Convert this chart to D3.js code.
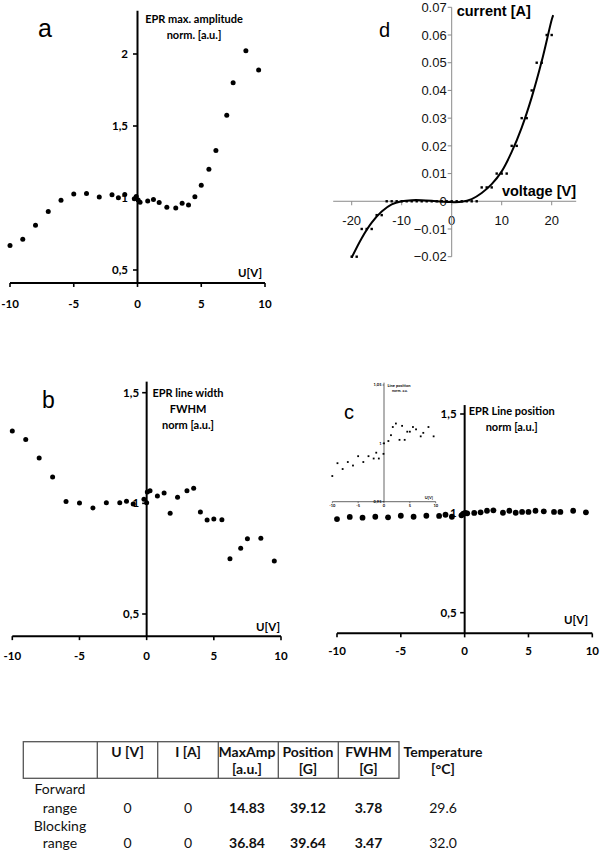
<!DOCTYPE html>
<html><head><meta charset="utf-8">
<script src="https://cdn.jsdelivr.net/npm/d3@7"></script>
<style>body{margin:0;background:#fff}svg{display:block}</style>
</head><body>
<svg id="chart" width="600" height="853"></svg>
<script>
// ---------- data ----------
// panel a : EPR max amplitude (normalised) vs U
const ampU   = [-10,-9,-8,-7,-6,-5,-4,-3,-2,-1.5,-1,-0.25,-0.1,0.05,0.2,0.8,1.25,1.7,2.3,3,3.5,4,4.5,5,5.6,6.15,7,7.5,8.5,9.5];
const ampVal = [0.67,0.713,0.81,0.907,0.984,1.028,1.032,1.007,1.023,1.002,1.025,0.995,1.01,0.986,0.97,0.98,0.99,0.968,0.935,0.93,0.963,0.951,1.009,1.088,1.2,1.329,1.574,1.80,2.023,1.889];
// panel b : EPR line width FWHM (normalised)
const fwhmU   = [-10,-9,-8,-7,-6,-5,-4,-3,-2,-1.5,-1,-0.2,0,0.05,0.25,0.8,1.3,1.75,2.3,3,3.5,4,4.5,5,5.6,6.2,7,7.5,8.5,9.5];
const fwhmVal = [1.327,1.289,1.205,1.119,1.008,1.002,0.979,1.003,1.003,1.009,0.997,1.018,1.003,1.051,1.057,1.033,1.047,0.955,1.027,1.057,1.068,0.961,0.925,0.929,0.926,0.75,0.797,0.84,0.842,0.739];
// panel c : EPR line position (normalised)
const posU   = [-10,-9,-8,-7,-6,-5,-4,-3,-2,-1.5,-1,-0.25,-0.1,0.05,0.2,0.75,1.25,1.75,2.25,3,3.5,4,4.5,5,5.55,6.2,7,7.5,8.5,9.5];
const posVal = [0.971,0.982,0.978,0.983,0.980,0.988,0.983,0.988,0.987,0.993,0.983,0.99,0.998,1.002,1.0,1.002,1.005,1.013,1.015,1.003,1.013,1.003,1.007,1.007,1.013,1.01,1.007,1.007,1.013,1.005];
// inset of panel c (zoomed line position)
const insetU   = [-10,-9,-8,-7,-6,-5,-4,-3,-2,-1.5,-1,-0.1,0,0.85,1.35,1.7,2.3,3,3.5,4,4.5,5,5.6,6.2,7.1,7.6,8.6,9.6];
const insetVal = [0.972,0.983,0.978,0.984,0.981,0.989,0.984,0.989,0.987,0.992,0.987,0.991,1.0,1.002,1.007,1.014,1.017,1.003,1.015,1.003,1.010,1.010,1.014,1.012,1.006,1.009,1.014,1.006];
// panel d : I-V characteristic
const ivU = [-20,-19,-18,-17,-16,-15,-14,-13,-12,-11,-10,-9,-8,-7,-6,-5,-4,-3,-2,-1,0,1,2,3,4,5,6,7,8,9,10,11,12,13,14,15,16,17,18,19,20];
const ivI = [-0.02,-0.02,-0.01,-0.01,-0.01,-0.005,-0.005,0,0,0,0,0,0,0,0,0,0,0,0,0,0,0,0,0,0,0,0.005,0.005,0.005,0.01,0.01,0.01,0.02,0.02,0.03,0.03,0.04,0.05,0.05,0.06,0.06];
// fitted trend line of panel d
const fitU = [-20,-18,-16,-14,-12,-10,-8,-6,-4,-2,0,2,4,6,8,10,12,14,16,18,20,20.3];
const fitI = [-0.0203,-0.0133,-0.0077,-0.0037,-0.0011,0.0000,0.0004,0.0004,0.0002,-0.0001,-0.0003,-0.0002,0.0008,0.0030,0.0062,0.0108,0.0178,0.0266,0.0375,0.0505,0.0655,0.0672];
// tick values
const eprXTicks = [-10,-5,0,5,10];
const ampYTicks = [0.5,1,1.5,2];
const fwYTicks  = [0.5,1,1.5];
const insetYTicks = [0.95,1,1.05];
const ivXTicks = [-20,-10,0,10,20];
const ivYTicks = [-0.02,-0.01,0,0.01,0.02,0.03,0.04,0.05,0.06,0.07];
// table
const tableHead1 = ["", "U [V]", "I [A]", "MaxAmp", "Position", "FWHM", "Temperature"];
const tableHead2 = ["", "", "", "[a.u.]", "[G]", "[G]", "[\u00B0C]"];
const rowNames = [["Forward","range"],["Blocking","range"]];
const rowU = ["0","0"];
const rowI = ["0","0"];
const rowAmp = ["14.83","36.84"];
const rowPos = ["39.12","39.64"];
const rowFw = ["3.78","3.47"];
const rowT = ["29.6","32.0"];

// ---------- drawing ----------
const svg = d3.select("#chart");
svg.append("rect").attr("width",600).attr("height",853).attr("fill","#fff");
const F = "Lato, 'Open Sans', sans-serif";
const comma = d => String(d).replace(".", ",");

function eprPanel(o){
  const g = svg.append("g");
  const x = o.x, y = o.y;
  const y0 = y(o.yExt[0]);
  const x0 = x(0);
  // x axis
  g.append("line").attr("x1",x(-10)).attr("x2",x(10)).attr("y1",y0).attr("y2",y0)
    .attr("stroke","#000").attr("stroke-width",2);
  g.selectAll(".xt").data(eprXTicks).enter().append("line")
    .attr("x1",d=>x(d)).attr("x2",d=>x(d)).attr("y1",y0).attr("y2",y0+4)
    .attr("stroke","#000").attr("stroke-width",1.6);
  g.selectAll(".xl").data(eprXTicks).enter().append("text")
    .attr("x",d=>x(d)).attr("y",o.xLabelY).attr("text-anchor","middle")
    .attr("font-family",F).attr("font-weight","bold").attr("font-size",11.5).text(d=>d);
  // y axis
  g.append("line").attr("x1",x0).attr("x2",x0).attr("y1",y0).attr("y2",y(o.yExt[1]))
    .attr("stroke","#000").attr("stroke-width",2);
  g.selectAll(".yt").data(o.yTicks).enter().append("line")
    .attr("x1",x0-4.5).attr("x2",x0).attr("y1",d=>y(d)).attr("y2",d=>y(d))
    .attr("stroke","#000").attr("stroke-width",1.6);
  g.selectAll(".yl").data(o.yTicks).enter().append("text")
    .attr("x",x0-o.labOff).attr("y",d=>y(d)).attr("dy","0.35em").attr("text-anchor","end")
    .attr("font-family",F).attr("font-weight","bold").attr("font-size",11.5).text(comma);
  // title
  o.title.forEach((t,i)=>{
    g.append("text").attr("x",o.titleX).attr("y",o.titleY+i*16).attr("text-anchor","middle")
      .attr("font-family",F).attr("font-weight","bold").attr("font-size",11).text(t);
  });
  // U[V]
  g.append("text").attr("x",o.uvX).attr("y",o.uvY).attr("text-anchor","end")
    .attr("font-family",F).attr("font-weight","bold").attr("font-size",11.5).text("U[V]");
  // letter
  g.append("text").attr("x",o.letterX).attr("y",o.letterY)
    .attr("font-family","'Liberation Sans', Arial, sans-serif").attr("font-size",o.letterSize).text(o.letter);
  // dots
  g.selectAll(".pt").data(o.u.map((u,i)=>[u,o.v[i]])).enter().append("circle")
    .attr("cx",d=>x(d[0])).attr("cy",d=>y(d[1])).attr("r",o.r).attr("fill","#000");
  return g;
}

// panel a
eprPanel({
  x: d3.scaleLinear().domain([-10,10]).range([10,265]),
  y: d3.scaleLinear().domain([0.5,2]).range([270,54]),
  yExt:[0.41,2.3], yTicks: ampYTicks, labOff: 9.5,
  xLabelY: 308,
  title:["EPR max. amplitude","norm. [a.u.]"], titleX:194, titleY:22.5,
  uvX:262, uvY:277, letter:"a", letterX:38, letterY:37, letterSize:25,
  u: ampU, v: ampVal, r:2.5
});
// panel b
eprPanel({
  x: d3.scaleLinear().domain([-10,10]).range([12.3,281]),
  y: d3.scaleLinear().domain([0.5,1.5]).range([614,392.7]),
  yExt:[0.4,1.55], yTicks: fwYTicks, labOff: 7.5,
  xLabelY: 660,
  title:["EPR line width","FWHM","norm [a.u.]"], titleX:188, titleY:397.3,
  uvX:280, uvY:631, letter:"b", letterX:42, letterY:408, letterSize:23,
  u: fwhmU, v: fwhmVal, r:2.5
});
// panel c
eprPanel({
  x: d3.scaleLinear().domain([-10,10]).range([337,592.3]),
  y: d3.scaleLinear().domain([0.5,1.5]).range([612.7,414]),
  yExt:[0.396,1.545], yTicks: fwYTicks, labOff: 8,
  xLabelY: 655,
  title:["EPR Line position","norm [a.u.]"], titleX:511.7, titleY:414.5,
  uvX:588, uvY:624, letter:"c", letterX:344, letterY:419, letterSize:20,
  u: posU, v: posVal, r:2.9
});

// inset in panel c
(function(){
  const g = svg.append("g");
  const x = d3.scaleLinear().domain([-10,10]).range([332.3,435.7]);
  const y = d3.scaleLinear().domain([0.95,1.05]).range([501.7,385]);
  const y0 = y(0.95), x0 = x(0);
  const fs = 4;
  g.append("line").attr("x1",x(-10)).attr("x2",x(10)).attr("y1",y0).attr("y2",y0)
    .attr("stroke","#222").attr("stroke-width",0.7);
  g.selectAll(".xt").data(eprXTicks).enter().append("line")
    .attr("x1",d=>x(d)).attr("x2",d=>x(d)).attr("y1",y0).attr("y2",y0+1.5)
    .attr("stroke","#222").attr("stroke-width",0.6);
  g.selectAll(".xl").data(eprXTicks).enter().append("text")
    .attr("x",d=>x(d)).attr("y",y0+5.5).attr("text-anchor","middle")
    .attr("font-family",F).attr("font-weight","bold").attr("font-size",fs).text(d=>d);
  g.append("line").attr("x1",x0).attr("x2",x0).attr("y1",y0).attr("y2",y(1.052))
    .attr("stroke","#222").attr("stroke-width",0.7);
  g.selectAll(".yt").data(insetYTicks).enter().append("line")
    .attr("x1",x0-1.5).attr("x2",x0).attr("y1",d=>y(d)).attr("y2",d=>y(d))
    .attr("stroke","#222").attr("stroke-width",0.6);
  g.selectAll(".yl").data(insetYTicks).enter().append("text")
    .attr("x",x0-2.5).attr("y",d=>y(d)).attr("dy","0.35em").attr("text-anchor","end")
    .attr("font-family",F).attr("font-weight","bold").attr("font-size",fs).text(comma);
  g.append("text").attr("x",x0+3.5).attr("y",y(1.05)+1.5)
    .attr("font-family",F).attr("font-weight","bold").attr("font-size",fs).text("Line position");
  g.append("text").attr("x",x0+8).attr("y",y(1.05)+6.5)
    .attr("font-family",F).attr("font-weight","bold").attr("font-size",3.6).text("norm. a.u.");
  g.append("text").attr("x",x(9.5)).attr("y",y0-2.5).attr("text-anchor","end")
    .attr("font-family",F).attr("font-weight","bold").attr("font-size",fs).text("U[V]");
  g.selectAll(".pt").data(insetU.map((u,i)=>[u,insetVal[i]])).enter().append("rect")
    .attr("x",d=>x(d[0])-0.9).attr("y",d=>y(d[1])-0.9).attr("width",1.8).attr("height",1.8).attr("fill","#000");
})();

// panel d
(function(){
  const g = svg.append("g");
  const FA = "'Liberation Sans', Arial, sans-serif";
  const x = d3.scaleLinear().domain([-20,20]).range([351.7,551.7]);
  const y = d3.scaleLinear().domain([-0.02,0.07]).range([256.7,7.3]);
  const y0 = y(0), x0 = x(0);
  const ax = "#8a8a8a";
  g.append("line").attr("x1",x(-23.7)).attr("x2",x(24.9)).attr("y1",y0).attr("y2",y0)
    .attr("stroke",ax).attr("stroke-width",1);
  g.selectAll(".xt").data(ivXTicks).enter().append("line")
    .attr("x1",d=>x(d)).attr("x2",d=>x(d)).attr("y1",y0).attr("y2",y0+4)
    .attr("stroke",ax).attr("stroke-width",1);
  g.selectAll(".xl").data(ivXTicks).enter().append("text")
    .attr("x",d=>x(d)).attr("y",y0+24).attr("text-anchor","middle")
    .attr("font-family",FA).attr("font-size",13).attr("fill","#111").text(d=>d);
  g.append("line").attr("x1",x0).attr("x2",x0).attr("y1",y(-0.02)).attr("y2",y(0.07))
    .attr("stroke",ax).attr("stroke-width",1);
  g.selectAll(".yt").data(ivYTicks).enter().append("line")
    .attr("x1",x0-4).attr("x2",x0).attr("y1",d=>y(d)).attr("y2",d=>y(d))
    .attr("stroke",ax).attr("stroke-width",1);
  g.selectAll(".yl").data(ivYTicks).enter().append("text")
    .attr("x",x0-5).attr("y",d=>y(d)).attr("dy","0.36em").attr("text-anchor","end")
    .attr("font-family",FA).attr("font-size",13).attr("fill","#111")
    .text(d=>d===0?"0":d3.format(".2f")(d));
  g.append("text").attr("x",x0+5).attr("y",16).attr("font-family",FA).attr("font-weight","bold")
    .attr("font-size",14.5).text("current [A]");
  g.append("text").attr("x",576).attr("y",196).attr("text-anchor","end").attr("font-family",FA).attr("font-weight","bold")
    .attr("font-size",14.5).text("voltage [V]");
  g.append("text").attr("x",379).attr("y",36.5).attr("font-family",FA).attr("font-size",20).text("d");
  const line = d3.line().x(d=>x(d[0])).y(d=>y(d[1])).curve(d3.curveCatmullRom);
  g.append("path").datum(fitU.map((u,i)=>[u,fitI[i]])).attr("d",line)
    .attr("fill","none").attr("stroke","#000").attr("stroke-width",2);
  g.selectAll(".pt").data(ivU.map((u,i)=>[u,ivI[i]])).enter().append("rect")
    .attr("x",d=>x(d[0])-1.2).attr("y",d=>y(d[1])-1.2).attr("width",2.4).attr("height",2.4).attr("fill","#000");
})();

// table
(function(){
  const g = svg.append("g");
  const colEdges = [23.3,97.3,157.7,218.3,278.3,338.3,399];
  const colCenters = [60,127.5,188,247,308,368.5,443];
  const top = 741.7, bot = 778.3;
  const st = "#555";
  g.append("rect").attr("x",colEdges[0]).attr("y",top).attr("width",colEdges[6]-colEdges[0]).attr("height",bot-top)
    .attr("fill","none").attr("stroke",st).attr("stroke-width",1.3);
  g.selectAll(".cl").data(colEdges.slice(1,6)).enter().append("line")
    .attr("x1",d=>d).attr("x2",d=>d).attr("y1",top).attr("y2",bot).attr("stroke",st).attr("stroke-width",1.3);
  const tf = {"font-family":F,"font-size":14};
  function txt(x,y,s,bold){
    g.append("text").attr("x",x).attr("y",y).attr("text-anchor","middle")
      .attr("font-family",F).attr("font-size",14).attr("font-weight",bold?"bold":"normal").attr("fill","#111").text(s);
  }
  tableHead1.forEach((s,i)=>{ if(s) txt(colCenters[i],756.7,s,true); });
  tableHead2.forEach((s,i)=>{ if(s) txt(colCenters[i],774,s,true); });
  const rowBase = [[794,812.7],[830.7,848.3]];
  rowNames.forEach((nm,r)=>{
    txt(colCenters[0],rowBase[r][0],nm[0],false);
    txt(colCenters[0],rowBase[r][1],nm[1],false);
    const yb = rowBase[r][1];
    txt(colCenters[1],yb,rowU[r],false);
    txt(colCenters[2],yb,rowI[r],false);
    txt(colCenters[3],yb,rowAmp[r],true);
    txt(colCenters[4],yb,rowPos[r],true);
    txt(colCenters[5],yb,rowFw[r],true);
    txt(colCenters[6],yb,rowT[r],false);
  });
})();
</script></body></html>
